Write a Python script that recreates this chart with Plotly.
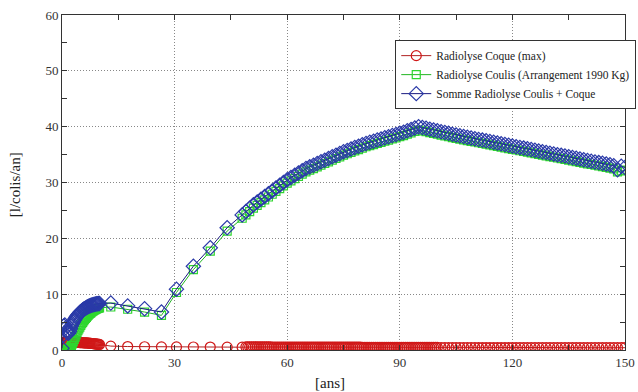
import plotly.graph_objects as go

# ---------------- data ----------------
t_early = [i * 0.25 for i in range(41)]          # 0 .. 10 years, 0.25 step
t_mid = [13, 17.5, 22, 26.5, 30.5, 35, 39.5, 44, 48]
t_late = list(range(49, 151))                     # 49 .. 150 years, 1 step
t_red_late = [49 + 0.5 * i for i in range(103)] + list(range(101, 151))

coque_early = [0.3, 0.8, 1.2, 1.4,
               1.5, 1.5, 1.5, 1.5, 1.48, 1.46, 1.44, 1.42, 1.4, 1.39, 1.38, 1.37,
               1.36, 1.35, 1.34, 1.33, 1.32, 1.31, 1.3, 1.29, 1.28, 1.27, 1.26, 1.25,
               1.24, 1.22, 1.2, 1.18, 1.16, 1.14, 1.12, 1.1, 1.08, 1.06, 1.04, 1.02, 1.0]
coque_mid = [0.7, 0.62, 0.58, 0.56, 0.55, 0.54, 0.53, 0.52, 0.5]
coque_late = [0.56, 0.56, 0.56, 0.56, 0.55, 0.55, 0.55, 0.55, 0.55, 0.55, 0.55,
              0.55, 0.55, 0.55, 0.54, 0.54, 0.54, 0.54, 0.54, 0.54, 0.54, 0.54,
              0.53, 0.53, 0.53, 0.53, 0.53, 0.53, 0.53, 0.53, 0.53, 0.53,
              0.52, 0.52, 0.52, 0.52, 0.52, 0.52, 0.52, 0.52, 0.52, 0.52,
              0.51, 0.51, 0.51, 0.51, 0.51, 0.51, 0.51, 0.51, 0.51, 0.51,
              0.50, 0.50, 0.50, 0.50, 0.50, 0.50, 0.50, 0.50, 0.50, 0.50,
              0.49, 0.49, 0.49, 0.49, 0.49, 0.49, 0.49, 0.49, 0.49, 0.49,
              0.48, 0.48, 0.48, 0.48, 0.48, 0.48, 0.48, 0.48, 0.48, 0.48,
              0.47, 0.47, 0.47, 0.47, 0.47, 0.47, 0.47, 0.47, 0.47, 0.47,
              0.46, 0.46, 0.46, 0.46, 0.46, 0.46, 0.46, 0.46, 0.46, 0.46, 0.46,
              0.45, 0.45, 0.45, 0.45, 0.45, 0.45, 0.45, 0.45, 0.45, 0.45,
              0.44, 0.44, 0.44, 0.44, 0.44, 0.44, 0.44, 0.44, 0.44, 0.44,
              0.43, 0.43, 0.43, 0.43, 0.43, 0.43, 0.43, 0.43, 0.43, 0.43,
              0.42, 0.42, 0.42, 0.42, 0.42, 0.42, 0.42, 0.42, 0.42, 0.42,
              0.41, 0.41, 0.41, 0.41, 0.41, 0.41, 0.41, 0.41, 0.41, 0.41]

coulis_early = [0, 0, 0, 0.02, 0.05, 0.1, 0.15, 0.2, 0.3, 0.5, 0.8, 1.1, 1.5,
                1.9, 2.3, 2.7, 3.1, 3.45, 3.8, 4.1, 4.4, 4.7, 4.95, 5.2, 5.45,
                5.65, 5.85, 6.05, 6.25, 6.4, 6.55, 6.7, 6.85, 6.97, 7.08, 7.18,
                7.28, 7.36, 7.44, 7.5, 7.56]
coulis_mid = [7.7, 7.3, 6.8, 6.2, 10.3, 14.4, 17.7, 21.3, 23.6]
coulis_late = [24.2, 24.8, 25.4, 25.9, 26.4, 26.9, 27.4, 27.9, 28.4, 28.9, 29.4,
               29.9, 30.3, 30.7, 31.1, 31.5, 31.9, 32.2, 32.5, 32.8, 33.1,
               33.4, 33.7, 34.0, 34.3, 34.6, 34.9, 35.15, 35.4, 35.65, 35.9,
               36.15, 36.4, 36.6, 36.8, 37.0, 37.2, 37.4, 37.6, 37.8, 38.0,
               38.2, 38.4, 38.65, 38.9, 39.15, 39.4, 39.25, 39.1, 38.95, 38.8,
               38.65, 38.5, 38.35, 38.2, 38.05, 37.9, 37.77, 37.64, 37.51, 37.38,
               37.25, 37.12, 36.99, 36.86, 36.73, 36.6, 36.47, 36.34, 36.21, 36.08,
               35.95, 35.82, 35.69, 35.56, 35.43, 35.3, 35.17, 35.04, 34.91, 34.78,
               34.65, 34.52, 34.39, 34.26, 34.13, 34.0, 33.87, 33.74, 33.61, 33.48,
               33.35, 33.22, 33.09, 32.96, 32.83, 32.7, 32.57, 32.44, 31.9, 32.1, 32.2]

somme_early = [0.3, 2.6, 4.3, 4.5, 4.0, 3.5, 3.1, 3.0, 3.3, 3.8, 4.3, 4.7, 5.0,
               5.3, 5.6, 5.85, 6.1, 6.3, 6.5, 6.7, 6.85, 7.0, 7.15, 7.3, 7.4,
               7.5, 7.6, 7.7, 7.8, 7.87, 7.94, 8.0, 8.06, 8.11, 8.16, 8.2, 8.24,
               8.27, 8.3, 8.32, 8.34]
somme_mid = [8.4, 7.9, 7.4, 6.8, 10.9, 15.0, 18.3, 21.9, 24.2]
somme_late = [24.8, 25.4, 26.0, 26.5, 27.0, 27.5, 28.0, 28.5, 29.0, 29.5, 30.0,
              30.5, 30.9, 31.3, 31.7, 32.1, 32.5, 32.8, 33.1, 33.4, 33.7,
              34.0, 34.3, 34.6, 34.9, 35.2, 35.5, 35.75, 36.0, 36.25, 36.5,
              36.75, 37.0, 37.2, 37.4, 37.6, 37.8, 38.0, 38.2, 38.4, 38.6,
              38.8, 39.0, 39.25, 39.5, 39.75, 40.0, 39.85, 39.7, 39.55, 39.4,
              39.25, 39.1, 38.95, 38.8, 38.65, 38.5, 38.37, 38.24, 38.11, 37.98,
              37.85, 37.72, 37.59, 37.46, 37.33, 37.2, 37.07, 36.94, 36.81, 36.68,
              36.55, 36.42, 36.29, 36.16, 36.03, 35.9, 35.77, 35.64, 35.51, 35.38,
              35.25, 35.12, 34.99, 34.86, 34.73, 34.6, 34.47, 34.34, 34.21, 34.08,
              33.95, 33.82, 33.69, 33.56, 33.43, 33.3, 33.17, 33.0, 32.3, 32.9, 32.7]

series_names = ["Radiolyse Coque (max)",
                "Radiolyse Coulis (Arrangement 1990 Kg)",
                "Somme Radiolyse Coulis + Coque"]

x_ticks = [0, 30, 60, 90, 120, 150]
y_ticks = [0, 10, 20, 30, 40, 50, 60]

# ---------------- figure ----------------
SERIF = "Liberation Serif"
fig = go.Figure()

fig.add_trace(go.Scatter(
    x=t_early + t_mid + t_red_late, y=coque_early + coque_mid + coque_late,
    mode="lines+markers", name=series_names[0],
    line=dict(color="#b02020", width=1),
    marker=dict(symbol="circle-open", size=10, color="#d01818", line=dict(width=1.2))))

fig.add_trace(go.Scatter(
    x=t_early + t_mid + t_late, y=coulis_early + coulis_mid + coulis_late,
    mode="lines+markers", name=series_names[1],
    line=dict(color="#22b522", width=1),
    marker=dict(symbol="square-open", size=8, color="#2ed62e", line=dict(width=1.2))))

fig.add_trace(go.Scatter(
    x=t_early + t_mid + t_late, y=somme_early + somme_mid + somme_late,
    mode="lines+markers", name=series_names[2],
    line=dict(color="#1a1a80", width=1),
    marker=dict(symbol="diamond-open", size=11, color="#2a3aa8", line=dict(width=1.2))))

axis_common = dict(
    showline=True, linecolor="#333", linewidth=1, mirror="ticks",
    ticks="inside", ticklen=5, tickcolor="#333",
    showgrid=True, gridcolor="#888", griddash="1px,2px", gridwidth=1,
    zeroline=False,
    tickfont=dict(family=SERIF, size=13, color="#333"),
)

fig.update_xaxes(range=[0, 150], tickvals=x_ticks,
                 minor=dict(ticks="inside", ticklen=5, tickcolor="#333",
                            tickvals=[15, 45, 75, 105, 135], showgrid=False),
                 **axis_common)
fig.update_yaxes(range=[0, 60], tickvals=y_ticks,
                 minor=dict(ticks="inside", ticklen=5, tickcolor="#333",
                            tickvals=[5, 15, 25, 35, 45, 55], showgrid=False),
                 **axis_common)

fig.update_layout(
    width=638, height=392,
    margin=dict(l=62, r=13, t=15, b=42, autoexpand=False),
    paper_bgcolor="white", plot_bgcolor="white",
    font=dict(family=SERIF, color="#222"),
    legend=dict(x=1.02, y=0.925, xanchor="right", yanchor="top",
                bgcolor="white", bordercolor="#333", borderwidth=1,
                font=dict(family=SERIF, size=11.5, color="#222"),
                tracegroupgap=0, itemwidth=30),
    annotations=[
        dict(text="[ans]", xref="paper", yref="paper", x=0.476, y=-0.098,
             xanchor="center", yanchor="middle", showarrow=False,
             font=dict(family=SERIF, size=15, color="#222")),
        dict(text="[l/colis/an]", xref="paper", yref="paper", x=-0.083, y=0.4925,
             xanchor="center", yanchor="middle", showarrow=False, textangle=-90,
             font=dict(family=SERIF, size=15, color="#222")),
    ],
)

fig.write_html("out.html")
